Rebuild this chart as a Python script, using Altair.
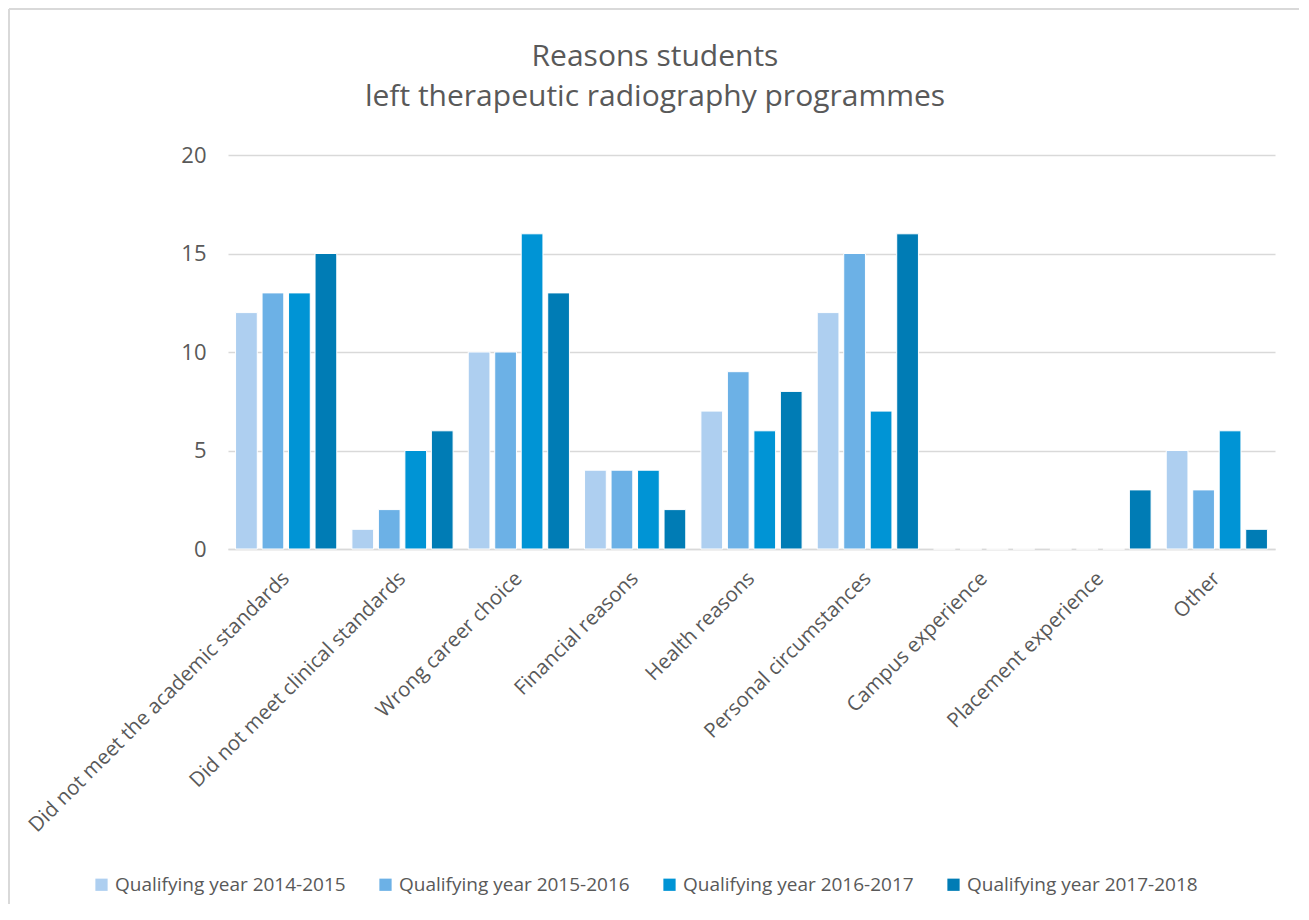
import altair as alt
import pandas as pd

categories = [
    "Did not meet the academic standards",
    "Did not meet clinical standards",
    "Wrong career choice",
    "Financial reasons",
    "Health reasons",
    "Personal circumstances",
    "Campus experience",
    "Placement experience",
    "Other",
]
series_names = [
    "Qualifying year 2014-2015",
    "Qualifying year 2015-2016",
    "Qualifying year 2016-2017",
    "Qualifying year 2017-2018",
]
y2014 = [12, 1, 10, 4, 7, 12, 0, 0, 5]
y2015 = [13, 2, 10, 4, 9, 15, 0, 0, 3]
y2016 = [13, 5, 16, 4, 6, 7, 0, 0, 6]
y2017 = [15, 6, 13, 2, 8, 16, 0, 3, 1]
colors = ["#AECFF0", "#6CB1E6", "#0094D5", "#007CB5"]
title_lines = ["Reasons students", "left therapeutic radiography programmes"]

rows = []
for s, vals in zip(series_names, [y2014, y2015, y2016, y2017]):
    for c, v in zip(categories, vals):
        rows.append({"Reason": c, "Series": s, "Value": v})
df = pd.DataFrame(rows)

FONT = "Open Sans"
GREY = "#595959"
LINE = "#D9D9D9"

bars = alt.Chart(df).mark_bar(stroke="white", strokeWidth=1).encode(
    x=alt.X("Reason:N", sort=categories,
            scale=alt.Scale(paddingInner=0.13, paddingOuter=0.065),
            axis=alt.Axis(title=None, labelAngle=-45, labelAlign="right",
                          labelBaseline="middle", labelPadding=26, ticks=False,
                          domain=True, domainColor=LINE, domainWidth=1.5,
                          labelFont=FONT, labelFontSize=20.5, labelColor=GREY,
                          labelLimit=600)),
    xOffset=alt.XOffset("Series:N", sort=series_names,
                        scale=alt.Scale(paddingInner=0.18, paddingOuter=0)),
    y=alt.Y("Value:Q", scale=alt.Scale(domain=[0, 20]),
            axis=alt.Axis(title=None, values=[0, 5, 10, 15, 20], grid=True,
                          gridColor=LINE, gridWidth=1.5, domain=False,
                          ticks=False, labelPadding=22, labelFont=FONT,
                          labelFontSize=22, labelColor=GREY)),
    color=alt.Color("Series:N", sort=series_names,
                    scale=alt.Scale(domain=series_names, range=colors),
                    legend=alt.Legend(title=None, orient="none",
                                      direction="horizontal",
                                      legendX=-136, legendY=720,
                                      symbolType="square", symbolSize=150,
                                      symbolStrokeWidth=0, symbolOpacity=1,
                                      labelFont=FONT, labelFontSize=19,
                                      labelColor=GREY, columnPadding=30,
                                      labelOffset=4, labelLimit=400)),
)

one = pd.DataFrame({"k": [0]})
title1 = alt.Chart(one).mark_text(
    font=FONT, fontSize=30, color=GREY, align="center", baseline="middle",
    text=title_lines[0]
).encode(x=alt.value(427), y=alt.value(-98))
title2 = alt.Chart(one).mark_text(
    font=FONT, fontSize=30, color=GREY, align="center", baseline="middle",
    text=title_lines[1]
).encode(x=alt.value(427), y=alt.value(-58))

left = alt.Chart(one).mark_rule(color=LINE, strokeWidth=2).encode(
    x=alt.value(-219), y=alt.value(-146), y2=alt.value(760))
top = alt.Chart(one).mark_rule(color=LINE, strokeWidth=2).encode(
    x=alt.value(-219), x2=alt.value(1072), y=alt.value(-146))
right = alt.Chart(one).mark_rule(color=LINE, strokeWidth=2).encode(
    x=alt.value(1072), y=alt.value(-146), y2=alt.value(760))

chart = alt.layer(bars, title1, title2, left, top, right).properties(
    width=1047,
    height=394,
    autosize=alt.AutoSizeParams(type="none"),
    padding={"left": 220, "top": 147, "right": 24, "bottom": 355},
).configure(background="white").configure_view(stroke=None, strokeWidth=0)

chart.save("out.html", embed_options={"renderer": "svg", "actions": False})
